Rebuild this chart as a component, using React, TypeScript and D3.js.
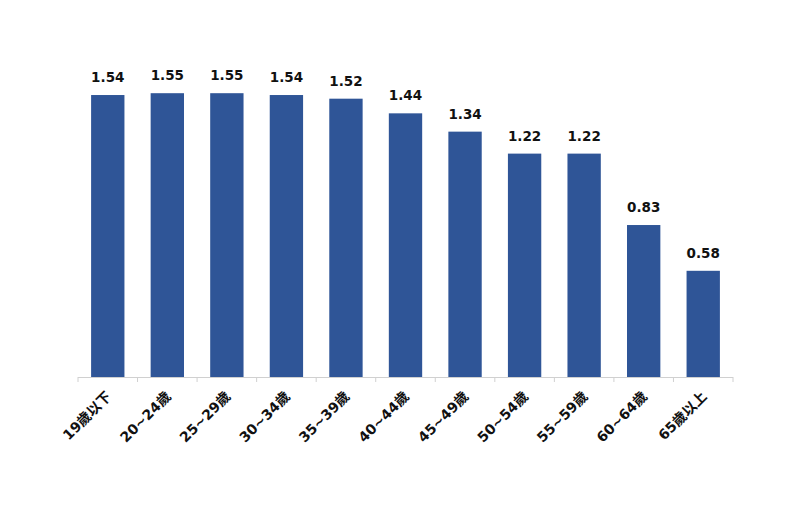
import React, { useEffect, useRef } from "react";
import * as d3 from "d3";

const categories = [
  "19歲以下",
  "20~24歲",
  "25~29歲",
  "30~34歲",
  "35~39歲",
  "40~44歲",
  "45~49歲",
  "50~54歲",
  "55~59歲",
  "60~64歲",
  "65歲以上",
];
const values = [1.54, 1.55, 1.55, 1.54, 1.52, 1.44, 1.34, 1.22, 1.22, 0.83, 0.58];

const App: React.FC = () => {
  const ref = useRef<SVGSVGElement>(null);

  useEffect(() => {
    const svg = d3.select(ref.current);
    svg.selectAll("*").remove();

    const left = 78,
      right = 733,
      baseline = 377;

    const x = d3.scaleBand().domain(categories).range([left, right]).paddingInner(0.44).paddingOuter(0.22);
    const y = d3.scaleLinear().domain([0, 1.8]).range([baseline, baseline - 1.8 * 183.1]);

    const font = "'DejaVu Sans', 'Noto Sans CJK TC', sans-serif";

    // bars
    svg
      .selectAll("rect.bar")
      .data(values)
      .enter()
      .append("rect")
      .attr("class", "bar")
      .attr("x", (_d, i) => x(categories[i])!)
      .attr("y", (d) => y(d))
      .attr("width", x.bandwidth())
      .attr("height", (d) => baseline - y(d))
      .attr("fill", "#2F5597");

    // value labels
    svg
      .selectAll("text.val")
      .data(values)
      .enter()
      .append("text")
      .attr("class", "val")
      .attr("x", (_d, i) => x(categories[i])! + x.bandwidth() / 2)
      .attr("y", (d) => y(d) - 13)
      .attr("text-anchor", "middle")
      .style("font-family", font)
      .style("font-size", "13.5px")
      .style("font-weight", "bold")
      .attr("fill", "#111")
      .text((d) => d.toFixed(2));

    // axis line + ticks
    const step = (right - left) / categories.length;
    const g = svg.append("g");
    g.append("line")
      .attr("x1", left)
      .attr("x2", right)
      .attr("y1", baseline + 0.5)
      .attr("y2", baseline + 0.5)
      .attr("stroke", "#d0d0d0");
    d3.range(categories.length + 1).forEach((i) => {
      g.append("line")
        .attr("x1", left + i * step)
        .attr("x2", left + i * step)
        .attr("y1", baseline)
        .attr("y2", baseline + 5)
        .attr("stroke", "#d0d0d0");
    });

    // category labels
    svg
      .selectAll("text.cat")
      .data(categories)
      .enter()
      .append("text")
      .attr("class", "cat")
      .attr("transform", (d) => `translate(${x(d)! + x.bandwidth() / 2 + 1},${baseline + 17}) rotate(-45)`)
      .attr("text-anchor", "end")
      .attr("dy", "0.35em")
      .style("font-family", font)
      .style("font-size", "14px")
      .style("font-weight", "bold")
      .attr("fill", "#111")
      .text((d) => d);
  }, []);

  return <svg ref={ref} width={800} height={527} style={{ position: "absolute", left: 0, top: 0 }} />;
};

export default App;
